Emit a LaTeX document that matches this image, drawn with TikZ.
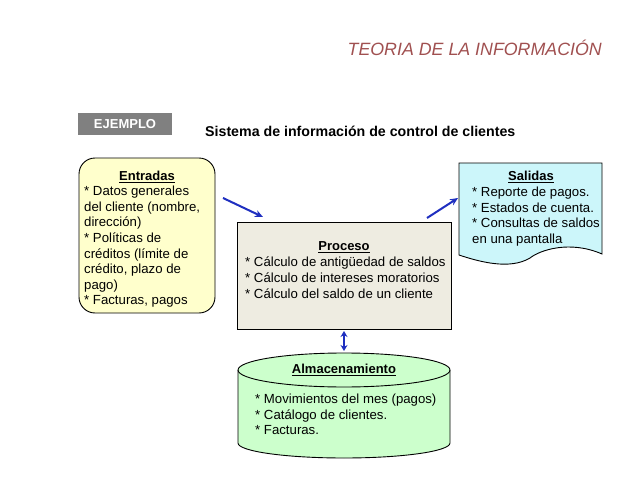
\documentclass[tikz,border=0pt]{standalone}
\usepackage{fontspec}
\setmainfont{Liberation Sans}
\usetikzlibrary{arrows.meta}
\definecolor{arr}{HTML}{1F2FC0}
\definecolor{ttl}{HTML}{A05050}
\tikzset{
  txt/.style={inner sep=0pt,align=left,font=\fontsize{13.2}{15.6}\selectfont,anchor=north west},
  hd/.style={inner sep=0pt,font=\fontsize{13}{14}\selectfont\bfseries},
  conn/.style={draw=arr,line width=2pt,-{Stealth[length=8pt,width=7pt]}},
  box/.style={draw=black,line width=0.9pt}
}
\begin{document}
\begin{tikzpicture}[x=1pt,y=-1pt]
\useasboundingbox (0,0) rectangle (638,479);
\node[font=\fontsize{17.8}{20}\selectfont\itshape,text=ttl,anchor=east,inner sep=0pt] (title) at (602,48) {TEORIA DE LA INFORMACIÓN};
\node[fill=black!50,minimum width=94pt,minimum height=22pt,inner sep=0pt,text=white,font=\fontsize{13}{14}\selectfont\bfseries] (ej) at (125,124) {EJEMPLO};
\node[font=\fontsize{14.2}{16}\selectfont\bfseries,anchor=west,inner sep=0pt] (sub) at (205,131) {Sistema de información de control de clientes};
% Entradas
\draw[box,fill={rgb,255:red,255;green,255;blue,204},rounded corners=16pt] (79,158) rectangle (215,313);
\node[hd] (eh) at (147,177) {\underline{Entradas}};
\node[txt] (et) at (84,186) {* Datos generales\\del cliente (nombre,\\dirección)\\* Políticas de\\créditos (límite de\\crédito, plazo de\\pago)\\* Facturas, pagos};
% Proceso
\draw[box,fill={rgb,255:red,238;green,236;blue,225}] (237,222) rectangle (451,329);
\node[hd] (ph) at (344,247) {\underline{Proceso}};
\node[txt] (ptx) at (245,257) {* Cálculo de antigüedad de saldos\\* Cálculo de intereses moratorios\\* Cálculo del saldo de un cliente};
% Salidas
\draw[box,fill={rgb,255:red,204;green,246;blue,250}] (459,163) -- (602,163) -- (602,254)
  .. controls (570,240) and (540,250) .. (530,258) .. controls (510,270) and (480,262) .. (459,255) -- cycle;
\node[hd] (sh) at (531,177) {\underline{Salidas}};
\node[txt] (stx) at (472,187) {* Reporte de pagos.\\* Estados de cuenta.\\* Consultas de saldos\\en una pantalla};
% Almacenamiento
\draw[box,fill={rgb,255:red,204;green,255;blue,204}] (238,370) -- (238,443) arc[start angle=180,end angle=0,x radius=106,y radius=15] -- (450,370) arc[start angle=0,end angle=-180,x radius=106,y radius=17] -- cycle;
\draw[box] (238,370) arc[start angle=180,end angle=0,x radius=106,y radius=17];
\node[hd] (ah) at (344,370) {\underline{Almacenamiento}};
\node[txt] (atx) at (255,394) {* Movimientos del mes (pagos)\\* Catálogo de clientes.\\* Facturas.};
% connectors
\coordinate (e1) at (223,198); \coordinate (p1) at (263,217);
\coordinate (p2) at (427,218); \coordinate (s1) at (458,198);
\coordinate (pb) at (344,331); \coordinate (at) at (344,351);
\draw[conn] (e1) -- (p1);
\draw[conn] (p2) -- (s1);
\draw[draw=arr,line width=1.6pt,{Stealth[length=6pt,width=7pt]}-{Stealth[length=6pt,width=7pt]}] (pb) -- (at);
\end{tikzpicture}
\end{document}
